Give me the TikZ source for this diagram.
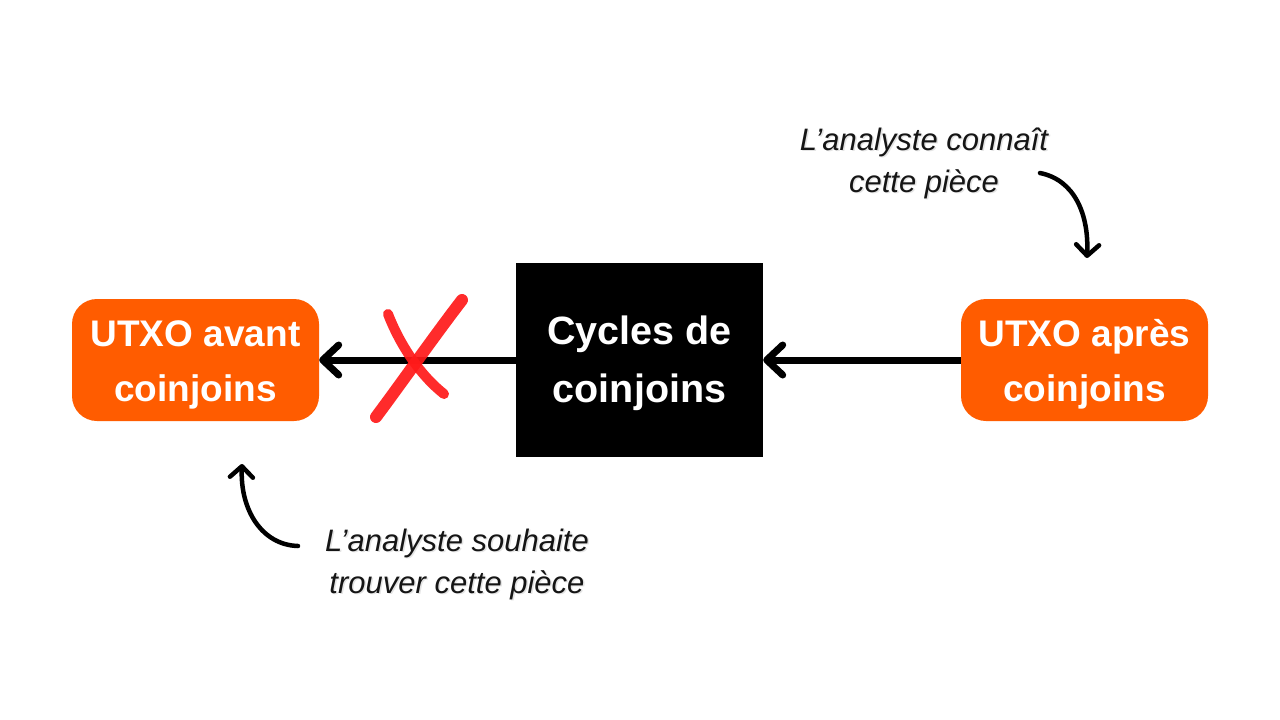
\documentclass[tikz,border=0pt]{standalone}
\usepackage{fontspec}
\setmainfont{Liberation Sans}
\usetikzlibrary{arrows.meta}
\definecolor{utxo}{HTML}{FF5C00}
\definecolor{xred}{HTML}{FF1A1A}
\definecolor{notegray}{HTML}{151515}
\tikzset{
  utxobox/.style={fill=utxo, rounded corners=25pt, minimum width=247pt, minimum height=122pt, inner sep=0pt},
  blackbox/.style={fill=black, minimum width=247pt, minimum height=194pt, inner sep=0pt},
  boxtext/.style={inner sep=0pt, text=white, align=center, font=\fontsize{37}{55}\selectfont\bfseries},
  midtext/.style={inner sep=0pt, text=white, align=center, font=\fontsize{39.5}{58}\selectfont\bfseries},
  mainarrow/.style={line width=7pt, -{Straight Barb[length=16pt,width=30pt,line cap=round,round]}},
  curvearrow/.style={line width=4.5pt, line cap=round, -{Straight Barb[length=11pt,width=23pt,line cap=round,round]}},
  note/.style={align=center, text=notegray, font=\fontsize{31}{42}\selectfont\itshape},
  noteshadow/.style={align=center, text=black!30, opacity=0.35, font=\fontsize{31}{42}\selectfont\itshape},
}
\begin{document}
\begin{tikzpicture}[x=1pt,y=-1pt]
\useasboundingbox[fill=white] (0,0) rectangle (1280,720);
\node[utxobox] (left) at (195.5,360) {};
\node[boxtext] (lefttext) at ([yshift=-4.5pt]left.center) {UTXO avant\\coinjoins};
\node[blackbox] (mid) at (639.5,360) {};
\node[midtext] (midtext) at ([yshift=-3pt]mid.center) {Cycles de\\coinjoins};
\node[utxobox] (right) at (1084.5,360) {};
\node[boxtext] (righttext) at ([yshift=-4.5pt]right.center) {UTXO après\\coinjoins};
\draw[mainarrow] (right.west) -- (mid.east);
\draw[mainarrow] (mid.west) -- (left.east);
% red cross
\draw[xred, line width=12pt, line cap=round, opacity=0.92] (462,300) .. controls (435,335) and (400,385) .. (376,417);
\draw[xred, line width=10pt, line cap=round, opacity=0.92] (388,314) .. controls (400,345) and (420,375) .. (444,394);
% notes
\node[noteshadow] at (925.5,164.5) {L’analyste connaît\\cette pièce};
\node[note] (n1) at (924,163) {L’analyste connaît\\cette pièce};
\node[noteshadow] at (458.5,565.5) {L’analyste souhaite\\trouver cette pièce};
\node[note] (n2) at (457,564) {L’analyste souhaite\\trouver cette pièce};
\coordinate (a1s) at (1040,173);
\coordinate (a1e) at (1087,258);
\coordinate (a2s) at (298,546);
\coordinate (a2e) at (242,464);
\draw[curvearrow] (a1s) .. controls (1075,180) and (1089,215) .. (a1e);
\draw[curvearrow] (a2s) .. controls (262,545) and (240,510) .. (a2e);
\end{tikzpicture}
\end{document}
